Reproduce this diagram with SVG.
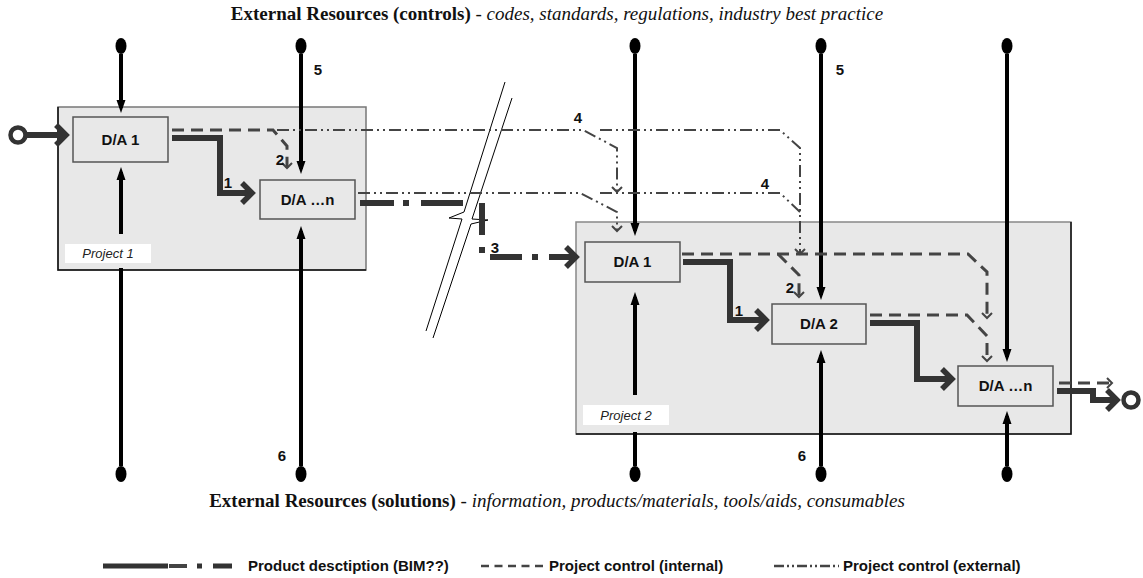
<svg xmlns="http://www.w3.org/2000/svg" width="1143" height="578" viewBox="0 0 1143 578">
<style>
.title{font-family:"Liberation Serif","Times New Roman",serif;font-size:19px;fill:#111}
.b{font-weight:bold}
.i{font-style:italic}
.lbl{font-family:"Liberation Sans",Arial,sans-serif;font-weight:bold;font-size:15px;fill:#111;text-anchor:middle}
.da{font-family:"Liberation Sans",Arial,sans-serif;font-weight:bold;font-size:15px;fill:#111;text-anchor:middle}
.proj{font-family:"Liberation Sans",Arial,sans-serif;font-style:italic;font-size:13px;fill:#222;text-anchor:middle}
.leg{font-family:"Liberation Sans",Arial,sans-serif;font-weight:bold;font-size:15px;fill:#111}
.box{fill:#e8e8e8;stroke:#555;stroke-width:1.5}
.res{stroke:#000;stroke-width:4;fill:none}
.dot{fill:#000}
.prod{stroke:#333;stroke-width:6;fill:none}
.int{stroke:#444;stroke-width:3;fill:none;stroke-dasharray:12 7}
.ext{stroke:#444;stroke-width:2;fill:none;stroke-dasharray:12 4 2 4 2 4}
.brk{stroke:#000;stroke-width:1;fill:none}
</style>
<defs>
<marker id="arrBlk" markerUnits="userSpaceOnUse" viewBox="-9 -6 15 12" refX="0" refY="0" markerWidth="15" markerHeight="12" orient="auto" overflow="visible">
<path d="M5,0 L-8,-4.5 L-8,4.5 z" fill="#000"/>
</marker>
<marker id="chevT" markerUnits="userSpaceOnUse" viewBox="-16 -14 22 28" refX="0" refY="0" markerWidth="22" markerHeight="28" orient="auto" overflow="visible">
<path d="M-10,-10 L0,0 L-10,10" fill="none" stroke="#333" stroke-width="5.5" stroke-dasharray="none"/>
</marker>
<marker id="chevD" markerUnits="userSpaceOnUse" viewBox="-8 -7 10 14" refX="0" refY="0" markerWidth="10" markerHeight="14" orient="auto" overflow="visible">
<path d="M-5,-5 L0,0 L-5,5" fill="none" stroke="#444" stroke-width="2" stroke-dasharray="none"/>
</marker>
</defs>

<rect width="1143" height="578" fill="#fff"/>

<text class="title" x="557" y="20" text-anchor="middle"><tspan class="b">External Resources (controls)</tspan> - <tspan class="i">codes, standards, regulations, industry best practice</tspan></text>
<text class="title" x="557" y="507" text-anchor="middle"><tspan class="b">External Resources (solutions)</tspan> - <tspan class="i">information, products/materials, tools/aids, consumables</tspan></text>

<g id="project1">
<rect x="58" y="107" width="308" height="163" fill="#e8e8e8" stroke="#777" stroke-width="1.5"/>
<polyline points="58,107 58,270 366,270" fill="none" stroke="#111" stroke-width="1.5"/>
<rect x="65" y="244" width="86" height="19" fill="#fff"/>
<text class="proj" x="108" y="258">Project 1</text>
</g>

<g id="project2">
<rect x="576" y="222" width="495" height="212" fill="#e8e8e8" stroke="#888" stroke-width="1.5"/>
<polyline points="1071,222 1071,434 576,434" fill="none" stroke="#111" stroke-width="1.5"/>
<rect x="583" y="405" width="86" height="20" fill="#fff"/>
<text class="proj" x="626" y="420">Project 2</text>
</g>

<g id="p1-da1"><rect class="box" x="73" y="117" width="95" height="45"/><text class="da" x="120.5" y="145">D/A 1</text></g>
<g id="p1-dan"><rect class="box" x="260" y="180" width="95" height="39"/><text class="da" x="307.5" y="205">D/A …n</text></g>
<g id="p2-da1"><rect class="box" x="585" y="242" width="95" height="40"/><text class="da" x="632.5" y="267">D/A 1</text></g>
<g id="p2-da2"><rect class="box" x="772" y="304" width="94" height="40"/><text class="da" x="819" y="329">D/A 2</text></g>
<g id="p2-dan"><rect class="box" x="958" y="366" width="95" height="40"/><text class="da" x="1005.5" y="391">D/A …n</text></g>

<g id="break">
<path class="brk" d="M505,82 L464,212 L449,218 L462,219 L426,331"/>
<path class="brk" d="M512,98 L472,219 L488,220 L471,224 L433,338"/>
</g>

<g id="connectors">
<ellipse class="dot" cx="121" cy="46" rx="5.5" ry="8"/>
<ellipse class="dot" cx="301" cy="46" rx="5.5" ry="8"/>
<ellipse class="dot" cx="635" cy="46" rx="5.5" ry="8"/>
<ellipse class="dot" cx="821" cy="46" rx="5.5" ry="8"/>
<ellipse class="dot" cx="1007" cy="46" rx="5.5" ry="8"/>
<ellipse class="dot" cx="121" cy="474" rx="5.5" ry="8"/>
<ellipse class="dot" cx="301" cy="474" rx="5.5" ry="8"/>
<ellipse class="dot" cx="635" cy="474" rx="5.5" ry="8"/>
<ellipse class="dot" cx="821" cy="474" rx="5.5" ry="8"/>
<ellipse class="dot" cx="1007" cy="474" rx="5.5" ry="8"/>
<path class="res" d="M121,54 V108" marker-end="url(#arrBlk)"/>
<path class="res" d="M301,54 V169" marker-end="url(#arrBlk)"/>
<path class="res" d="M635,54 V231" marker-end="url(#arrBlk)"/>
<path class="res" d="M821,54 V295" marker-end="url(#arrBlk)"/>
<path class="res" d="M1007,54 V357" marker-end="url(#arrBlk)"/>
<path class="res" d="M121,466 V268"/>
<path class="res" d="M121,234 V172" marker-end="url(#arrBlk)"/>
<path class="res" d="M301,466 V231" marker-end="url(#arrBlk)"/>
<path class="res" d="M635,466 V432"/>
<path class="res" d="M635,395 V297" marker-end="url(#arrBlk)"/>
<path class="res" d="M821,466 V355" marker-end="url(#arrBlk)"/>
<path class="res" d="M1007,466 V416" marker-end="url(#arrBlk)"/>

<path class="ext" d="M277,130 H583 L617,148 V192" marker-end="url(#chevD)"/>
<path class="ext" d="M600,130 H780 L800,148 V254" marker-end="url(#chevD)"/>
<path class="ext" d="M358,193 H580 L617,212 V231" marker-end="url(#chevD)"/>
<path class="ext" d="M600,193 H780 L800,212"/>

<path class="int" d="M172,130 H273 L287,146 V168" marker-end="url(#chevD)"/>
<path class="int" d="M682,254 H968 L987,272 V318" marker-end="url(#chevD)"/>
<path class="int" d="M778,254 L799,275 V297" marker-end="url(#chevD)"/>
<path class="int" d="M870,315 H967 L987,336 V361" marker-end="url(#chevD)"/>
<path class="int" d="M1059,383 H1112" marker-end="url(#chevD)"/>

<circle cx="18" cy="135" r="7.5" fill="#fff" stroke="#333" stroke-width="4.5"/>
<path class="prod" d="M26,135 H66" marker-end="url(#chevT)"/>
<path class="prod" d="M172,138 H220 V193 H252" marker-end="url(#chevT)"/>
<path class="prod" d="M683,262 H730 V320 H766" marker-end="url(#chevT)"/>
<path class="prod" d="M870,323 H917 V379 H952" marker-end="url(#chevT)"/>
<path class="prod" d="M1057,391 H1093 V400 H1117" marker-end="url(#chevT)"/>
<circle cx="1131" cy="400" r="7.5" fill="#fff" stroke="#333" stroke-width="4.5"/>
<path class="prod" d="M360,203 H394 M403,203 H409 M421,203 H463"/>
<path class="prod" stroke-width="5" d="M482,203 V235 M482,247 V253"/>
<path class="prod" d="M490,257 H522 M532,257 H538"/>
<path class="prod" d="M549,257 H576" marker-end="url(#chevT)"/>

<text class="lbl" x="228" y="188">1</text>
<text class="lbl" x="280" y="165">2</text>
<text class="lbl" x="495" y="253">3</text>
<text class="lbl" x="578" y="123">4</text>
<text class="lbl" x="765" y="189">4</text>
<text class="lbl" x="739" y="316">1</text>
<text class="lbl" x="790" y="293">2</text>
<text class="lbl" x="318" y="75">5</text>
<text class="lbl" x="840" y="75">5</text>
<text class="lbl" x="282" y="461">6</text>
<text class="lbl" x="802" y="461">6</text>
</g>

<g id="legend">
<path d="M103,566 H168 M197,566 H202 M213,566 H232" stroke="#333" stroke-width="5" fill="none"/>
<path d="M169,566 H187" stroke="#444" stroke-width="4" fill="none"/>
<text class="leg" x="248" y="571">Product desctiption (BIM??)</text>
<path d="M481,566 H543" stroke="#444" stroke-width="2.5" stroke-dasharray="8 5.5" fill="none"/>
<text class="leg" x="549" y="571">Project control (internal)</text>
<path d="M774,566 H839" stroke="#444" stroke-width="2.5" stroke-dasharray="10 3 2 3 2 3" fill="none"/>
<text class="leg" x="843" y="571">Project control (external)</text>
</g>
</svg>
